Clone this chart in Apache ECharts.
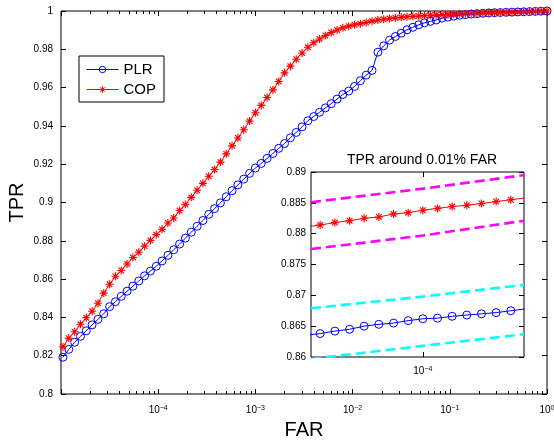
<!DOCTYPE html>
<html><head><meta charset="utf-8">
<script src="https://cdn.jsdelivr.net/npm/echarts@6/dist/echarts.min.js"></script>
<style>html,body{margin:0;padding:0;background:#fff}#c{width:554px;height:440px}</style>
</head><body><div id="c"></div>
<script>
// ---- main chart data (FAR on log axis, TPR) ----
const far = [
 1.047e-5,1.202e-5,1.380e-5,1.585e-5,1.820e-5,2.089e-5,2.399e-5,2.754e-5,3.162e-5,3.631e-5,
 4.169e-5,4.786e-5,5.495e-5,6.310e-5,7.244e-5,8.318e-5,9.550e-5,1.096e-4,1.259e-4,1.445e-4,
 1.660e-4,1.905e-4,2.188e-4,2.512e-4,2.884e-4,3.311e-4,3.802e-4,4.365e-4,5.012e-4,5.754e-4,
 6.607e-4,7.586e-4,8.710e-4,1.000e-3,1.148e-3,1.318e-3,1.514e-3,1.738e-3,1.995e-3,2.291e-3,
 2.630e-3,3.020e-3,3.467e-3,3.981e-3,4.571e-3,5.248e-3,6.026e-3,6.918e-3,7.943e-3,9.120e-3,
 1.047e-2,1.202e-2,1.380e-2,1.585e-2,1.820e-2,2.089e-2,2.399e-2,2.754e-2,3.162e-2,3.631e-2,
 4.169e-2,4.786e-2,5.495e-2,6.310e-2,7.244e-2,8.318e-2,9.550e-2,0.1096,0.1259,0.1445,
 0.1660,0.1905,0.2188,0.2512,0.2884,0.3311,0.3802,0.4365,0.5012,0.5754,
 0.6607,0.7586,0.8710,1.0
];
const plr = [
 0.8192,0.8233,0.8270,0.8301,0.8330,0.8361,0.8390,0.8419,0.8456,0.8482,
 0.8510,0.8537,0.8563,0.8590,0.8617,0.8642,0.8667,0.8695,0.8724,0.8753,
 0.8783,0.8814,0.8845,0.8876,0.8906,0.8938,0.8968,0.8998,0.9030,0.9062,
 0.9092,0.9122,0.9152,0.9180,0.9204,0.9230,0.9256,0.9283,0.9308,0.9338,
 0.9366,0.9395,0.9427,0.9449,0.9471,0.9494,0.9516,0.9540,0.9564,0.9582,
 0.9606,0.9636,0.9665,0.9690,0.9785,0.9818,0.9848,0.9867,0.9884,0.9902,
 0.9915,0.9928,0.9938,0.9946,0.9953,0.9963,0.9968,0.9973,0.9978,0.9981,
 0.9984,0.9986,0.9988,0.9990,0.9991,0.9992,0.9993,0.9994,0.9995,0.9996,
 0.9997,0.9998,0.9999,1.0
];
const cop = [
 0.8247,0.8292,0.8325,0.8364,0.8398,0.8432,0.8474,0.8527,0.8573,0.8615,
 0.8645,0.8679,0.8713,0.8740,0.8772,0.8802,0.8832,0.8860,0.8893,0.8919,
 0.8958,0.8989,0.9027,0.9064,0.9100,0.9137,0.9172,0.9211,0.9254,0.9296,
 0.9337,0.9380,0.9425,0.9469,0.9507,0.9548,0.9588,0.9632,0.9677,0.9712,
 0.9748,0.9781,0.9811,0.9834,0.9854,0.9872,0.9888,0.9901,0.9912,0.9921,
 0.9928,0.9934,0.9940,0.9947,0.9953,0.9957,0.9961,0.9964,0.9967,0.9970,
 0.9972,0.9974,0.9976,0.9978,0.9979,0.9981,0.9982,0.9983,0.9985,0.9986,
 0.9987,0.9988,0.9989,0.9990,0.9991,0.9992,0.9993,0.9994,0.9995,0.9996,
 0.9997,0.9998,0.9999,1.0
];
// ---- inset data ----
const insetFar = [8.954e-5,9.078e-5,9.205e-5,9.333e-5,9.462e-5,9.594e-5,9.728e-5,9.863e-5,
 1.0e-4,1.0139e-4,1.0280e-4,1.0423e-4,1.0568e-4,1.0715e-4,1.0864e-4,1.1015e-4];
const insetPlr = [0.8635,0.8638,0.8642,0.8645,0.8650,0.8653,0.8655,0.8659,
 0.8662,0.8663,0.8666,0.8668,0.8670,0.8672,0.8675,0.8678];
const insetCop = [0.8811,0.8814,0.8818,0.8821,0.8825,0.8827,0.8832,0.8834,
 0.8838,0.8841,0.8844,0.8846,0.8849,0.8852,0.8855,0.8858];
const bandFar  = [9.0e-5, 1.0e-4, 1.1e-4];
const copUpper = [0.8851, 0.8873, 0.8895];
const copLower = [0.8775, 0.8797, 0.8821];
const plrUpper = [0.8679, 0.8698, 0.8717];
const plrLower = [0.8597, 0.8618, 0.8637];
// ---- ticks ----
const xMajorTicks = [1e-5,1e-4,1e-3,1e-2,1e-1,1];
const xLabelTicks = [1e-4,1e-3,1e-2,1e-1,1];
const xMinorTicks = [2e-5,3e-5,4e-5,5e-5,6e-5,7e-5,8e-5,9e-5,
 2e-4,3e-4,4e-4,5e-4,6e-4,7e-4,8e-4,9e-4,
 2e-3,3e-3,4e-3,5e-3,6e-3,7e-3,8e-3,9e-3,
 2e-2,3e-2,4e-2,5e-2,6e-2,7e-2,8e-2,9e-2,
 0.2,0.3,0.4,0.5,0.6,0.7,0.8,0.9];
const insetXTicks = [1e-4];

const FONT = 'Liberation Sans';
const starPath = 'path://M0 8.6L20 8.6L20 11.4L0 11.4Z M8.6 0L11.4 0L11.4 20L8.6 20Z M2 4L4 2L18 16L16 18Z M16 2L18 4L4 18L2 16Z';

function pow10Label(v) {
  const e = Math.round(Math.log10(v));
  return '{b|10}{s|' + String(e).replace('-', '\u2212') + '}';
}
const richSup = {
  b: {fontSize: 10, fontFamily: FONT, color: '#000', padding: [5,0,0,0], lineHeight: 10, verticalAlign: 'bottom'},
  s: {fontSize: 7, fontFamily: FONT, color: '#000', lineHeight: 7, verticalAlign: 'top'}
};
const black = {color: '#000', width: 1};
function pairs(xs, ys) { return xs.map((x, i) => [x, ys[i]]); }

const chart = echarts.init(document.getElementById('c'), null, {renderer: 'canvas'});
chart.setOption({
  animation: false,
  backgroundColor: '#fff',
  textStyle: {fontFamily: FONT},
  title: {
    text: 'TPR around 0.01% FAR', left: 417, top: 148, textAlign: 'center',
    textStyle: {fontSize: 14, fontWeight: 'normal', color: '#000', fontFamily: FONT}
  },
  legend: {
    data: ['PLR', 'COP'], orient: 'vertical', left: 79, top: 56,
    itemWidth: 32, itemHeight: 8, itemGap: 5,
    padding: [6, 8, 5, 7], borderColor: '#000', borderWidth: 1, backgroundColor: '#fff',
    lineStyle: {width: 1}, itemStyle: {borderWidth: 1},
    textStyle: {fontSize: 15, color: '#000', fontFamily: FONT}
  },
  grid: [
    {left: 61, top: 11, right: 7, bottom: 46, containLabel: false, outerBoundsMode: 'none',
     show: true, borderColor: '#000', borderWidth: 1, backgroundColor: 'transparent', z: 0},
    {left: 311, top: 172, right: 30, bottom: 83, containLabel: false, outerBoundsMode: 'none',
     show: true, borderColor: '#000', borderWidth: 1, backgroundColor: '#fff', z: 5}
  ],
  xAxis: [
    {gridIndex: 0, type: 'log', logBase: 10, min: 1e-5, max: 1, position: 'bottom',
     name: 'FAR', nameLocation: 'middle', nameGap: 26, nameTextStyle: {fontSize: 20, color: '#000', fontFamily: FONT},
     axisLine: {show: false}, splitLine: {show: false},
     axisTick: {inside: true, length: 5, lineStyle: black, customValues: xMajorTicks},
     axisLabel: {margin: 11, customValues: xLabelTicks, formatter: pow10Label, rich: richSup}},
    {gridIndex: 0, type: 'log', logBase: 10, min: 1e-5, max: 1, position: 'bottom',
     axisLine: {show: false}, splitLine: {show: false}, axisLabel: {show: false},
     axisTick: {inside: true, length: 3, lineStyle: black, customValues: xMinorTicks}},
    {gridIndex: 0, type: 'log', logBase: 10, min: 1e-5, max: 1, position: 'top',
     axisLine: {show: false}, splitLine: {show: false}, axisLabel: {show: false},
     axisTick: {inside: true, length: 5, lineStyle: black, customValues: xMajorTicks}},
    {gridIndex: 0, type: 'log', logBase: 10, min: 1e-5, max: 1, position: 'top',
     axisLine: {show: false}, splitLine: {show: false}, axisLabel: {show: false},
     axisTick: {inside: true, length: 3, lineStyle: black, customValues: xMinorTicks}},
    {gridIndex: 1, type: 'log', logBase: 10, min: 9e-5, max: 1.1e-4, position: 'bottom', z: 6,
     axisLine: {show: false}, splitLine: {show: false},
     axisTick: {inside: true, length: 5, lineStyle: black, customValues: insetXTicks},
     axisLabel: {margin: 9, customValues: insetXTicks, formatter: pow10Label, rich: richSup}},
    {gridIndex: 1, type: 'log', logBase: 10, min: 9e-5, max: 1.1e-4, position: 'top', z: 6,
     axisLine: {show: false}, splitLine: {show: false}, axisLabel: {show: false},
     axisTick: {inside: true, length: 5, lineStyle: black, customValues: insetXTicks}}
  ],
  yAxis: [
    {gridIndex: 0, type: 'value', min: 0.8, max: 1, interval: 0.02, position: 'left',
     name: 'TPR', nameLocation: 'middle', nameGap: 34, nameMoveOverlap: false,
     nameTextStyle: {fontSize: 20, color: '#000', fontFamily: FONT},
     axisLine: {show: false}, splitLine: {show: false},
     axisTick: {inside: true, length: 5, lineStyle: black},
     axisLabel: {margin: 8, fontSize: 10, color: '#000', fontFamily: FONT}},
    {gridIndex: 0, type: 'value', min: 0.8, max: 1, interval: 0.02, position: 'right',
     axisLine: {show: false}, splitLine: {show: false}, axisLabel: {show: false},
     axisTick: {inside: true, length: 5, lineStyle: black}},
    {gridIndex: 1, type: 'value', min: 0.86, max: 0.89, interval: 0.005, position: 'left', z: 6,
     axisLine: {show: false}, splitLine: {show: false},
     axisTick: {inside: true, length: 5, lineStyle: black},
     axisLabel: {margin: 5, fontSize: 10, color: '#000', fontFamily: FONT}},
    {gridIndex: 1, type: 'value', min: 0.86, max: 0.89, interval: 0.005, position: 'right', z: 6,
     axisLine: {show: false}, splitLine: {show: false}, axisLabel: {show: false},
     axisTick: {inside: true, length: 5, lineStyle: black}}
  ],
  series: [
    {name: 'PLR', type: 'line', xAxisIndex: 0, yAxisIndex: 0, data: pairs(far, plr),
     symbol: 'circle', symbolSize: 8, z: 3,
     lineStyle: {color: '#0000ff', width: 1},
     itemStyle: {color: 'rgba(0,0,0,0)', borderColor: '#0000ff', borderWidth: 1}},
    {name: 'COP', type: 'line', xAxisIndex: 0, yAxisIndex: 0, data: pairs(far, cop),
     symbol: starPath, symbolSize: 8, z: 3,
     lineStyle: {color: '#ff0000', width: 1},
     itemStyle: {color: '#ff0000', borderWidth: 0}},
    {name: 'COP upper', type: 'line', xAxisIndex: 4, yAxisIndex: 2, data: pairs(bandFar, copUpper),
     symbol: 'none', z: 7, clip: true, lineStyle: {color: '#ff00ff', width: 2.6, type: [10, 5]}},
    {name: 'COP lower', type: 'line', xAxisIndex: 4, yAxisIndex: 2, data: pairs(bandFar, copLower),
     symbol: 'none', z: 7, clip: true, lineStyle: {color: '#ff00ff', width: 2.6, type: [10, 5]}},
    {name: 'PLR upper', type: 'line', xAxisIndex: 4, yAxisIndex: 2, data: pairs(bandFar, plrUpper),
     symbol: 'none', z: 7, clip: true, lineStyle: {color: '#00ffff', width: 2.6, type: [10, 5]}},
    {name: 'PLR lower', type: 'line', xAxisIndex: 4, yAxisIndex: 2, data: pairs(bandFar, plrLower),
     symbol: 'none', z: 7, clip: true, lineStyle: {color: '#00ffff', width: 2.6, type: [10, 5]}},
    {name: 'PLR inset', type: 'line', xAxisIndex: 4, yAxisIndex: 2, z: 8, clip: true,
     data: insetFar.map((x, i) => ({value: [x, insetPlr[i]], symbol: (i === 0 || i === insetFar.length - 1) ? 'none' : 'circle'})),
     symbolSize: 8, lineStyle: {color: '#0000ff', width: 1},
     itemStyle: {color: 'rgba(0,0,0,0)', borderColor: '#0000ff', borderWidth: 1}},
    {name: 'COP inset', type: 'line', xAxisIndex: 4, yAxisIndex: 2, z: 8, clip: true,
     data: insetFar.map((x, i) => ({value: [x, insetCop[i]], symbol: (i === 0 || i === insetFar.length - 1) ? 'none' : starPath})),
     symbolSize: 8, lineStyle: {color: '#ff0000', width: 1},
     itemStyle: {color: '#ff0000', borderWidth: 0}}
  ]
});
</script>
</body></html>
